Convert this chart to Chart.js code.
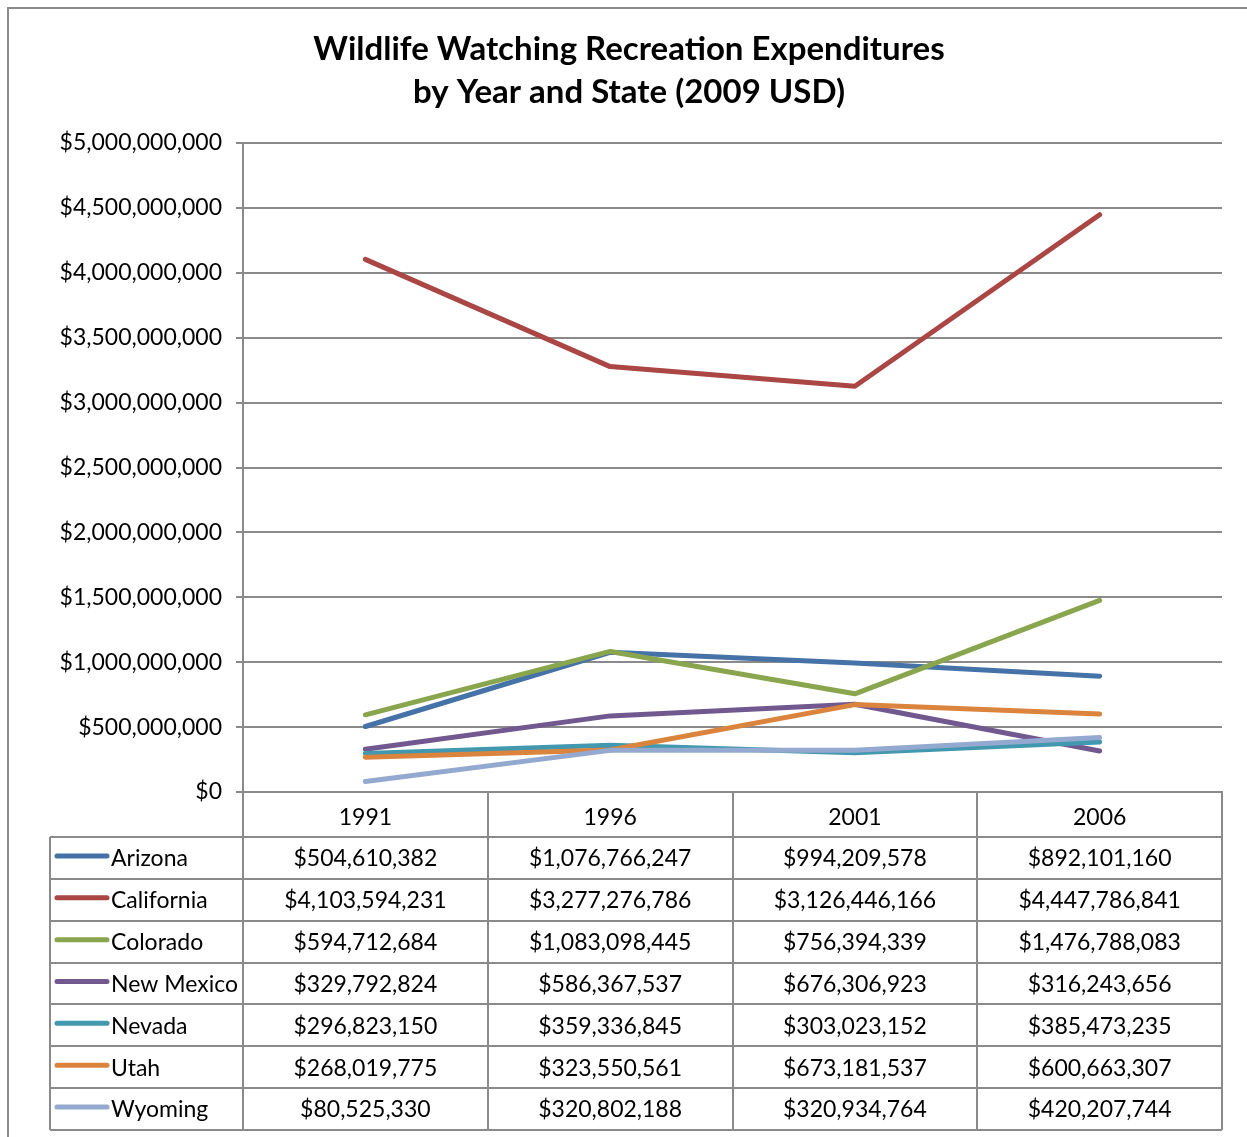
<!DOCTYPE html>
<html><head><meta charset="utf-8">
<script src="https://cdn.jsdelivr.net/npm/chart.js@4/dist/chart.umd.min.js"></script>
<style>html,body{margin:0;padding:0;background:#fff;}#wrap{width:1247px;height:1137px;}</style>
</head><body><div id="wrap"><canvas id="c" width="1247" height="1137"></canvas></div>
<script>
const years = ['1991', '1996', '2001', '2006'];
const stateNames = ['Arizona', 'California', 'Colorado', 'New Mexico', 'Nevada', 'Utah', 'Wyoming'];
const arizona = [504610382, 1076766247, 994209578, 892101160];
const california = [4103594231, 3277276786, 3126446166, 4447786841];
const colorado = [594712684, 1083098445, 756394339, 1476788083];
const newMexico = [329792824, 586367537, 676306923, 316243656];
const nevada = [296823150, 359336845, 303023152, 385473235];
const utah = [268019775, 323550561, 673181537, 600663307];
const wyoming = [80525330, 320802188, 320934764, 420207744];
const seriesValues = [arizona, california, colorado, newMexico, nevada, utah, wyoming];
const seriesColors = ['#4572A7', '#AA4643', '#89A54E', '#71588F', '#4198AF', '#DB843D', '#93A9CF'];
const yMin = 0, yMax = 5000000000, yStep = 500000000;
const titleLines = ['Wildlife Watching Recreation Expenditures', 'by Year and State (2009 USD)'];

const FONT = 'Lato';
const GRID = '#8a8a8a';
const money = v => '$' + Math.round(v).toLocaleString('en-US');

const tablePlugin = {
  id: 'tablePlugin',
  beforeDraw(chart) {
    const ctx = chart.ctx;
    ctx.save();
    ctx.fillStyle = '#fff';
    ctx.fillRect(0, 0, chart.width, chart.height);
    ctx.strokeStyle = GRID;
    ctx.lineWidth = 2;
    ctx.strokeRect(8, 8, chart.width + 20, chart.height + 20);
    ctx.restore();
  },
  afterDraw(chart) {
    const ctx = chart.ctx;
    const ca = chart.chartArea;
    const xs = chart.scales.x;
    const n = years.length;
    const headerH = 45;
    const tableLeft = 50;
    const top = ca.bottom;
    const bottom = xs.bottom;
    const rowsTop = top + headerH;
    const rowH = (bottom - rowsTop) / stateNames.length;
    const cw = (ca.right - ca.left) / n;
    ctx.save();
    ctx.strokeStyle = GRID;
    ctx.lineWidth = 2;
    ctx.beginPath();
    for (let r = 0; r <= stateNames.length; r++) {
      const y = Math.round(rowsTop + r * rowH);
      ctx.moveTo(tableLeft, y); ctx.lineTo(ca.right, y);
    }
    ctx.moveTo(tableLeft, rowsTop); ctx.lineTo(tableLeft, bottom);
    for (let i = 0; i <= n; i++) {
      const x = Math.round(ca.left + i * cw);
      ctx.moveTo(x, top); ctx.lineTo(x, bottom);
    }
    ctx.stroke();
    ctx.font = '23px ' + FONT;
    ctx.fillStyle = '#000';
    ctx.textBaseline = 'middle';
    for (let r = 0; r < stateNames.length; r++) {
      const cy = rowsTop + r * rowH + rowH / 2;
      ctx.strokeStyle = seriesColors[r];
      ctx.lineWidth = 5;
      ctx.lineCap = 'round';
      ctx.beginPath();
      ctx.moveTo(57, cy - 2); ctx.lineTo(107, cy - 2);
      ctx.stroke();
      ctx.textAlign = 'left';
      ctx.fillText(stateNames[r], 111, cy + 1);
      ctx.textAlign = 'center';
      for (let i = 0; i < n; i++) {
        ctx.fillText(money(seriesValues[r][i]), xs.getPixelForValue(i), cy + 1);
      }
    }
    ctx.restore();
  }
};

new Chart(document.getElementById('c'), {
  type: 'line',
  data: {
    labels: years,
    datasets: stateNames.map((name, i) => ({
      label: name,
      data: seriesValues[i],
      borderColor: seriesColors[i],
      backgroundColor: seriesColors[i],
      borderWidth: 5,
      borderCapStyle: 'round',
      borderJoinStyle: 'round',
      pointRadius: 0,
      tension: 0,
      order: stateNames.length - 1 - i
    }))
  },
  options: {
    responsive: false,
    animation: false,
    devicePixelRatio: 1,
    layout: { padding: { left: 36, right: 25, top: 0, bottom: 7 } },
    plugins: {
      legend: { display: false },
      tooltip: { enabled: false },
      title: {
        display: true,
        text: titleLines,
        color: '#000',
        font: { family: FONT, size: 33, weight: 'bold', lineHeight: 43 / 33 },
        padding: { top: 28, bottom: 29 }
      }
    },
    scales: {
      x: {
        offset: true,
        grid: { display: false },
        border: { display: true, color: GRID, width: 2 },
        ticks: { color: '#000', font: { family: FONT, size: 23 }, padding: 4 },
        afterFit(s) { s.height = 1137 - 792 - 7; }
      },
      y: {
        min: yMin, max: yMax,
        grid: { color: GRID, lineWidth: 2, tickLength: 7 },
        border: { display: true, color: GRID, width: 2 },
        ticks: { stepSize: yStep, color: '#000', font: { family: FONT, size: 23 }, padding: 14, callback: v => money(v) },
        afterFit(s) { s.width = 243 - 36; }
      }
    }
  },
  plugins: [tablePlugin]
});
</script>
</body></html>
